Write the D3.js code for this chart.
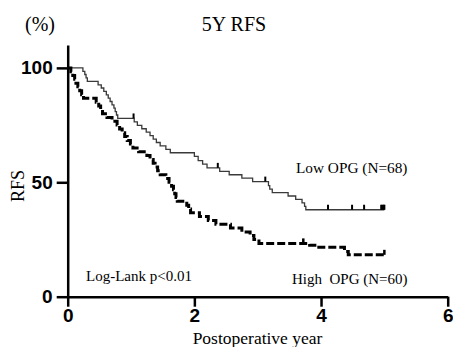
<!DOCTYPE html>
<html>
<head>
<meta charset="utf-8">
<script src="https://cdn.jsdelivr.net/npm/d3@7"></script>
<style>
  body { margin: 0; background: #fff; }
  text { fill: #000; }
</style>
</head>
<body>
<div id="chart"></div>
<script>
// time (years) / RFS (%) at each step of the Kaplan-Meier curves
const lowTime = [0, 0.24, 0.27, 0.29, 0.31, 0.48, 0.53, 0.57, 0.61, 0.64, 0.67, 0.70, 0.73, 0.75, 0.77, 0.79,
  1.05, 1.10, 1.17, 1.24, 1.30, 1.35, 1.40, 1.46, 1.55, 1.62, 2.00, 2.06, 2.13, 2.20, 2.40, 2.55, 2.75, 2.92,
  3.17, 3.19, 3.23, 3.48, 3.60, 3.70, 3.74, 3.76, 5.0];
const lowRfs = [100, 98.5, 97.1, 95.6, 94.1, 92.6, 91.2, 89.7, 88.2, 86.8, 85.3, 83.8, 82.4, 80.9, 79.4, 77.9,
  76.4, 74.9, 73.4, 71.9, 70.4, 68.9, 67.4, 65.9, 64.4, 62.9, 61.3, 59.5, 57.9, 56.3, 54.8, 53.3, 51.8, 50.3,
  48.5, 47.0, 45.5, 44.0, 42.5, 41.0, 39.5, 38.0, 38.0];
const lowCensor = [1.04, 2.37, 3.12, 4.11, 4.49, 4.68, 4.95, 4.97, 4.99, 5.0];

const highTime = [0, 0.05, 0.08, 0.11, 0.13, 0.16, 0.19, 0.22, 0.25, 0.45, 0.49, 0.52, 0.55, 0.62, 0.70, 0.78,
  0.82, 0.86, 0.90, 0.94, 0.99, 1.03, 1.12, 1.25, 1.30, 1.35, 1.38, 1.42, 1.46, 1.55, 1.60, 1.64, 1.67, 1.69,
  1.71, 1.73, 1.88, 1.91, 1.94, 2.08, 2.22, 2.34, 2.57, 2.75, 2.88, 2.94, 3.02, 3.82, 3.94, 4.37, 4.43, 5.0];
const highRfs = [100, 98.3, 96.7, 95.0, 93.3, 91.7, 90.0, 88.3, 86.7, 85.0, 83.3, 81.7, 80.0, 78.3, 76.7, 75.0,
  73.3, 71.7, 70.0, 68.3, 66.7, 65.0, 63.3, 61.7, 60.0, 58.3, 56.7, 55.0, 53.3, 51.7, 50.0, 48.3, 46.7, 45.0,
  43.3, 41.7, 40.0, 38.3, 36.7, 35.0, 33.3, 31.7, 30.0, 28.3, 26.7, 25.0, 23.3, 22.5, 21.6, 19.8, 18.3, 18.3];
const highCensor = [3.72, 5.0];

const xTicks = [0, 2, 4, 6];
const yTicks = [0, 50, 100];

const width = 453, height = 347;
const serif = "'Liberation Serif', 'Times New Roman', serif";
const sans = "'Liberation Sans', Arial, sans-serif";

const svg = d3.select("#chart").append("svg")
  .attr("width", width).attr("height", height);

const x = d3.scaleLinear().domain([0, 6]).range([67.7, 447.7]);
const y = d3.scaleLinear().domain([0, 110]).range([296.7, 45]);

// axes
const xAxis = svg.append("g")
  .attr("transform", `translate(0,${y(0)})`)
  .call(d3.axisBottom(x).tickValues(xTicks).tickFormat(d3.format("d"))
    .tickSize(10).tickPadding(2).tickSizeOuter(0));
const yAxis = svg.append("g")
  .attr("transform", `translate(${x(0)},0)`)
  .call(d3.axisLeft(y).tickValues(yTicks).tickFormat(d3.format("d"))
    .tickSize(11).tickPadding(4).tickSizeOuter(0));

[xAxis, yAxis].forEach(a => {
  a.select(".domain").attr("stroke", "#000").attr("stroke-width", 2.5);
  a.selectAll(".tick line").attr("stroke", "#000").attr("stroke-width", 2.5);
  a.selectAll(".tick text")
    .attr("fill", "#000")
    .style("font-family", sans)
    .style("font-weight", "bold")
    .style("font-size", "19px");
});

// curves
const line = d3.line()
  .x(d => x(d[0]))
  .y(d => y(d[1]))
  .curve(d3.curveStepAfter);

const lowPts = lowTime.map((t, i) => [t, lowRfs[i]]);
const highPts = highTime.map((t, i) => [t, highRfs[i]]);

svg.append("path")
  .datum(lowPts)
  .attr("d", line)
  .attr("fill", "none")
  .attr("stroke", "#3a3a3a")
  .attr("stroke-width", 1.3);

svg.append("path")
  .datum(highPts)
  .attr("d", line)
  .attr("fill", "none")
  .attr("stroke", "#000")
  .attr("stroke-width", 3)
  .attr("stroke-dasharray", "8,3");

// censor marks
function rfsAt(times, vals, t) {
  let v = vals[0];
  for (let i = 0; i < times.length; i++) if (times[i] <= t) v = vals[i];
  return v;
}
svg.selectAll(".cLow")
  .data(lowCensor)
  .join("line")
  .attr("x1", d => x(d)).attr("x2", d => x(d))
  .attr("y1", d => y(rfsAt(lowTime, lowRfs, d)))
  .attr("y2", d => y(rfsAt(lowTime, lowRfs, d)) - 5)
  .attr("stroke", "#000")
  .attr("stroke-width", 2);
svg.selectAll(".cHigh")
  .data(highCensor)
  .join("line")
  .attr("x1", d => x(d)).attr("x2", d => x(d))
  .attr("y1", d => y(rfsAt(highTime, highRfs, d)))
  .attr("y2", d => y(rfsAt(highTime, highRfs, d)) - 5)
  .attr("stroke", "#000")
  .attr("stroke-width", 2.5);

// texts
svg.append("text").attr("x", 25).attr("y", 31)
  .style("font-family", serif).style("font-size", "20px").text("(%)");
svg.append("text").attr("x", 234).attr("y", 31).attr("text-anchor", "middle")
  .style("font-family", serif).style("font-size", "20px").text("5Y RFS");
svg.append("text")
  .attr("transform", `translate(24,186) rotate(-90)`)
  .attr("text-anchor", "middle")
  .style("font-family", serif).style("font-size", "18px").text("RFS");
svg.append("text").attr("x", 257.5).attr("y", 344).attr("text-anchor", "middle")
  .style("font-family", serif).style("font-size", "17.5px").text("Postoperative year");
svg.append("text").attr("x", 86).attr("y", 281)
  .style("font-family", serif).style("font-size", "15px").text("Log-Lank p<0.01");
svg.append("text").attr("x", 296).attr("y", 173)
  .style("font-family", serif).style("font-size", "15.3px").text("Low OPG (N=68)");
svg.append("text").attr("x", 292).attr("y", 284)
  .attr("xml:space", "preserve").style("white-space", "pre")
  .style("font-family", serif).style("font-size", "15px").text("High  OPG (N=60)");
</script>
</body>
</html>
